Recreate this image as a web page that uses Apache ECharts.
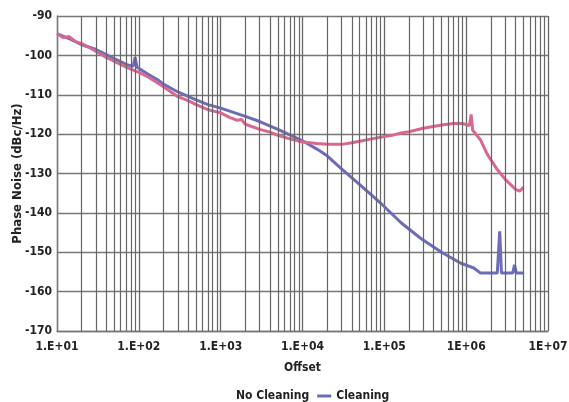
<!DOCTYPE html>
<html>
<head>
    <meta charset="utf-8">
    <title>Phase Noise</title>
    <script src="https://cdn.jsdelivr.net/npm/echarts@6/dist/echarts.min.js"></script>
    <style>
        html, body { margin: 0; padding: 0; background: #fff; }
    </style>
</head>
<body>
    <div id="main" style="width: 569px;height:402px;"></div>
    <script type="text/javascript">
        // offsets in Hz, phase noise in dBc/Hz
        var noCleaning = [
            [10, -94.5], [12, -95.5], [14, -95.2], [17, -96.5], [20, -97], [25, -98],
            [30, -99], [40, -100.5], [50, -101.5], [60, -102.3], [70, -103], [80, -103.5],
            [100, -104.3], [130, -105.5], [170, -107], [200, -108], [300, -110.5],
            [400, -111.5], [500, -112.5], [700, -113.8], [1000, -114.6], [1300, -115.8],
            [1600, -116.5], [1800, -116.3], [2000, -117.5], [3000, -118.8], [4000, -119.5],
            [5000, -120.3], [7000, -121.2], [10000, -122], [15000, -122.4], [20000, -122.6],
            [30000, -122.6], [40000, -122.2], [50000, -121.8], [70000, -121.2],
            [100000, -120.6], [130000, -120.2], [160000, -119.7], [200000, -119.4],
            [300000, -118.5], [500000, -117.7], [700000, -117.3], [900000, -117.3],
            [1100000, -117.8], [1150000, -115], [1200000, -119], [1500000, -121.5],
            [1800000, -125], [2400000, -129], [3000000, -131.5], [4000000, -134],
            [4500000, -134.5], [5000000, -133.5]
        ];
        var cleaning = [
            [10, -94.5], [15, -96], [20, -97.3], [30, -98.5], [40, -99.8], [50, -100.8],
            [70, -102.3], [85, -102.8], [90, -100.5], [95, -103], [100, -103.5],
            [130, -104.8], [170, -106.2], [200, -107.3], [300, -109.3], [500, -111.3],
            [700, -112.5], [1000, -113.4], [2000, -115.5], [3000, -116.8], [5000, -118.8],
            [7000, -120.2], [10000, -121.7], [15000, -123.8], [20000, -125.5],
            [30000, -128.8], [50000, -132.8], [70000, -135.5], [90000, -137.5],
            [160000, -142.5], [280000, -146.5], [500000, -150], [860000, -152.8],
            [1240000, -154], [1500000, -155.3], [2400000, -155.3], [2570000, -144.7],
            [2700000, -155.3], [3700000, -155.3], [3900000, -153.2], [4100000, -155.3],
            [5100000, -155.3]
        ];
        var xTickLabels = ['1.E+01', '1.E+02', '1.E+03', '1.E+04', '1.E+05', '1E+06', '1E+07'];
        var decades = [10, 100, 1000, 10000, 100000, 1000000];
        var minorSteps = [2, 3, 4, 5, 6, 7, 8, 9];

        var font = '"DejaVu Sans Condensed", "Liberation Sans Narrow", sans-serif';

        // vertical grid lines inside each decade
        var minorLines = [];
        decades.forEach(function (d) {
            minorSteps.forEach(function (k) {
                minorLines.push({ xAxis: d * k });
            });
        });

        var chartDom = document.getElementById('main');
        var myChart = echarts.init(chartDom, null, {renderer: 'canvas'});

        var option = {
            animation: false,
            backgroundColor: '#fff',
            grid: { left: 57, right: 21, top: 16, bottom: 71, outerBoundsMode: 'none' },
            legend: {
                top: 385,
                left: 212,
                itemWidth: 14,
                itemHeight: 3,
                itemGap: 8,
                textStyle: { fontFamily: font, fontWeight: 'bold', fontSize: 12, color: '#222' },
                data: [
                    { name: 'No Cleaning', icon: 'none' },
                    { name: 'Cleaning', icon: 'rect' }
                ]
            },
            xAxis: {
                type: 'log',
                logBase: 10,
                min: 10,
                max: 10000000,
                name: 'Offset',
                nameLocation: 'middle',
                nameGap: 31,
                nameMoveOverlap: false,
                nameTextStyle: { fontFamily: font, fontWeight: 'bold', fontSize: 12, color: '#222' },
                axisLine: { lineStyle: { color: '#777', width: 1.3 } },
                axisTick: { show: false },
                axisLabel: {
                    fontFamily: font, fontWeight: 'bold', fontSize: 12, color: '#222', margin: 10,
                    formatter: function (v) {
                        return xTickLabels[Math.round(Math.log10(v)) - 1];
                    }
                },
                splitLine: { show: true, lineStyle: { color: '#666', width: 1.3 } }
            },
            yAxis: {
                type: 'value',
                min: -170,
                max: -90,
                interval: 10,
                name: 'Phase Noise (dBc/Hz)',
                nameLocation: 'middle',
                nameGap: 33,
                nameMoveOverlap: false,
                nameTextStyle: { fontFamily: font, fontWeight: 'bold', fontSize: 13, color: '#222' },
                axisLine: { show: true, lineStyle: { color: '#777', width: 1.3 } },
                axisTick: { show: false },
                axisLabel: { fontFamily: font, fontWeight: 'bold', fontSize: 12, color: '#222', margin: 5 },
                splitLine: { show: true, lineStyle: { color: '#777', width: 1.3 } }
            },
            series: [
                {
                    name: 'No Cleaning',
                    type: 'line',
                    data: noCleaning,
                    symbol: 'none',
                    color: '#d9678f',
                    lineStyle: { width: 3, color: '#d9678f' },
                    z: 3,
                    markLine: {
                        silent: true,
                        symbol: 'none',
                        label: { show: false },
                        lineStyle: { color: '#666', width: 1.2, type: 'solid' },
                        data: minorLines
                    }
                },
                {
                    name: 'Cleaning',
                    type: 'line',
                    data: cleaning,
                    symbol: 'none',
                    color: '#6e6cb8',
                    lineStyle: { width: 3, color: '#6e6cb8' },
                    z: 2
                }
            ]
        };
        myChart.setOption(option);
    </script>
</body>
</html>
